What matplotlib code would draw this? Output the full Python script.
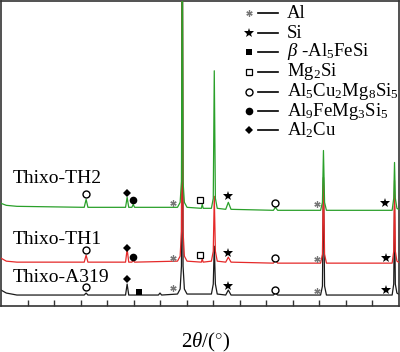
import matplotlib
matplotlib.use("Agg")
import matplotlib.pyplot as plt
import numpy as np

plt.rcParams['font.family'] = ['Liberation Serif', 'DejaVu Serif']
plt.rcParams['mathtext.fontset'] = 'custom'
plt.rcParams['mathtext.rm'] = 'Liberation Serif'
plt.rcParams['mathtext.it'] = 'Liberation Serif:italic'

# ---- data (2theta in degrees, intensity in arbitrary offset units) ----
tt_a319 = [5.0, 6.0, 8.0, 20.7, 21.06, 21.4, 28.5, 28.8, 29.1, 34.7, 35.0, 35.3,
           38.3, 38.8, 39.05, 39.2, 39.35, 39.6, 40.1, 44.7, 45.05, 45.24, 45.45, 45.8,
           47.4, 47.89, 48.4, 56.4, 56.77, 57.2, 65.3, 65.65, 65.84, 66.05, 66.4,
           78.8, 79.1, 79.25, 79.4, 79.7, 80.0]
int_a319 = [16, 13, 11, 11, 13, 11, 11, 22, 11, 11, 13, 11,
            12, 17, 40, 420, 40, 17, 12, 12, 22, 60, 22, 12,
            11, 16, 11, 11, 13, 11, 11, 20, 129, 20, 11,
            11, 22, 100, 22, 13, 12]

tt_th = [5.0, 6.0, 8.0, 20.7, 21.06, 21.4, 28.5, 28.8, 29.1, 29.7, 29.94, 30.2,
         38.3, 38.8, 39.05, 39.2, 39.35, 39.6, 40.1, 42.8, 42.97, 43.15,
         44.7, 45.05, 45.24, 45.45, 45.8, 47.4, 47.89, 48.4, 56.4, 56.77, 57.2,
         65.3, 65.65, 65.84, 66.05, 66.4, 78.8, 79.1, 79.25, 79.4, 79.7, 80.0]
int_th1 = [48, 45, 44, 44, 51, 44, 44, 57, 44, 44, 46, 44,
           45, 50, 75, 420, 75, 50, 45, 44, 47, 44,
           45, 55, 110, 55, 45, 44, 49, 44, 43, 46, 43,
           43, 52, 129, 52, 43, 43, 55, 126, 55, 45, 44]
int_th2 = [103, 101, 100, 99, 107, 99, 99, 109, 99, 99, 102, 99,
           99, 104, 125, 420, 125, 104, 99, 98, 102, 98,
           98, 108, 236, 108, 98, 97, 104, 97, 96, 99, 96,
           96, 104, 156, 104, 96, 96, 108, 144, 108, 98, 97]

sample_labels = ['Thixo-TH2', 'Thixo-TH1', 'Thixo-A319']

# phase marks: (2theta, intensity) for each phase symbol
al_marks = [(37.5, 103), (37.5, 48), (37.5, 18), (64.7, 102), (64.7, 47), (64.7, 15)]
si_marks = [(47.9, 110), (47.9, 53), (47.9, 20), (77.4, 103), (77.6, 48), (77.6, 16)]
beta_marks = [(31.1, 14)]
mg2si_marks = [(42.6, 106), (42.6, 51)]
q_marks = [(21.06, 112), (21.06, 56), (21.06, 19), (56.77, 103), (56.77, 48), (56.77, 16)]
al9_marks = [(29.9, 106), (29.9, 49)]
al2cu_marks = [(28.8, 113), (28.8, 58), (28.8, 27)]

legend_labels = ['Al', 'Si', r'$\it{\beta}$ -Al$_5$FeSi', 'Mg$_2$Si',
                 'Al$_5$Cu$_2$Mg$_8$Si$_5$', 'Al$_9$FeMg$_3$Si$_5$', 'Al$_2$Cu']

# ---- figure ----
W, H = 400, 352
fig = plt.figure(figsize=(4.0, 3.52), dpi=100)
ax = fig.add_axes([1.0 / W, 46.0 / H, 397.5 / W, 305.0 / H])
ax.set_xlim(5, 80)
ax.set_ylim(0, 306)

ax.plot(tt_a319, int_a319, color='#1a1a1a', lw=0.9, zorder=2)
ax.plot(tt_th, int_th1, color='#e52a2a', lw=0.9, zorder=3)
ax.plot(tt_th, int_th2, color='#2aa02a', lw=0.9, zorder=4)

ax.set_xticks(np.arange(10, 80, 5))
ax.set_yticks([])
ax.tick_params(axis='x', direction='in', length=4, width=1.0, labelbottom=False,
               color='#333333')
for s in ax.spines.values():
    s.set_linewidth(1.2)
    s.set_color('#333333')

def mark(points, **kw):
    xs = [p[0] for p in points]
    ys = [p[1] for p in points]
    ax.plot(xs, ys, ls='none', zorder=6, clip_on=False, **kw)

ast_kw = dict(marker=(6, 2, 0), ms=4.5, mew=0.9, color='#777777')
star_kw = dict(marker='*', ms=7, color='black', mew=0)
beta_kw = dict(marker='s', ms=5, color='black', mew=0)
mg2si_kw = dict(marker='s', ms=4.5, mfc='white', mec='black', mew=0.9)
q_kw = dict(marker='o', ms=5, mfc='white', mec='black', mew=1.0)
al9_kw = dict(marker='o', ms=5.5, color='black', mew=0)
al2cu_kw = dict(marker='D', ms=3.8, color='black', mew=0)

mark(al_marks, **ast_kw)
mark(si_marks, **star_kw)
mark(beta_marks, **beta_kw)
mark(mg2si_marks, **mg2si_kw)
mark(q_marks, **q_kw)
mark(al9_marks, **al9_kw)
mark(al2cu_marks, **al2cu_kw)

# sample labels
label_pos_px = [(13, 178), (13, 240), (13, 278)]
for lab, (px, py) in zip(sample_labels, label_pos_px):
    fig.text(px / W, 1 - py / H, lab, fontsize=14, ha='left', va='center')

# legend (manual)
styles = [ast_kw, star_kw, beta_kw, mg2si_kw, q_kw, al9_kw, al2cu_kw]
rows_py = [13, 33, 52, 72, 92, 111, 130]
for st, lab, py in zip(styles, legend_labels, rows_py):
    fy = 1 - py / H
    fig.add_artist(plt.Line2D([249 / W], [fy], transform=fig.transFigure, ls='none', **st))
    fig.add_artist(plt.Line2D([258 / W, 278 / W], [fy, fy], transform=fig.transFigure,
                              color='black', lw=1.2))
    fig.text(287 / W, fy, lab, fontsize=13.5, ha='left', va='center')

fig.text(206 / W, 1 - 342 / H, r'2$\it{\theta}$/($^{\circ}$)', fontsize=15,
         ha='center', va='center')

fig.savefig('out.png', dpi=100)
